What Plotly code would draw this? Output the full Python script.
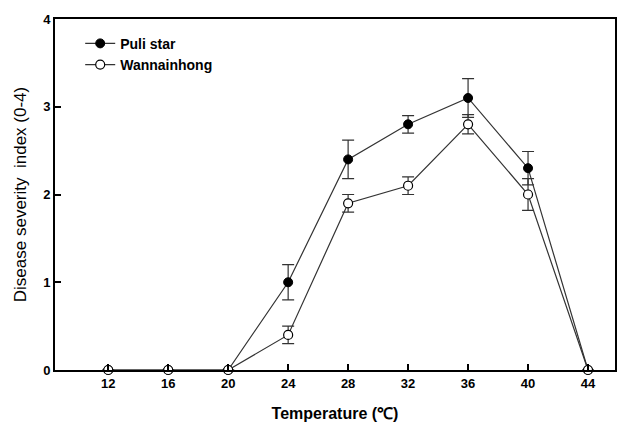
import plotly.graph_objects as go

temps = [12, 16, 20, 24, 28, 32, 36, 40, 44]
puli = [0, 0, 0, 1.0, 2.4, 2.8, 3.1, 2.3, 0]
puli_err = [0, 0, 0, 0.2, 0.22, 0.1, 0.22, 0.19, 0]
wann = [0, 0, 0, 0.4, 1.9, 2.1, 2.8, 2.0, 0]
wann_err = [0, 0, 0, 0.1, 0.1, 0.1, 0.11, 0.18, 0]
xticks = [12, 16, 20, 24, 28, 32, 36, 40, 44]
yticks = [0, 1, 2, 3, 4]

fig = go.Figure()
fig.add_trace(go.Scatter(
    x=temps, y=puli, name="<b>Puli star</b>", mode="lines+markers",
    line=dict(color="#333333", width=1.2),
    marker=dict(symbol="circle", size=9, color="black", line=dict(color="black", width=1)),
    error_y=dict(type="data", array=puli_err, visible=True, color="#333333", thickness=1.2, width=6),
    cliponaxis=False,
))
fig.add_trace(go.Scatter(
    x=temps, y=wann, name="<b>Wannainhong</b>", mode="lines+markers",
    line=dict(color="#333333", width=1.2),
    marker=dict(symbol="circle", size=9, color="white", line=dict(color="black", width=1.2)),
    error_y=dict(type="data", array=wann_err, visible=True, color="#333333", thickness=1.2, width=6),
    cliponaxis=False,
))

fig.update_layout(
    width=630, height=433,
    margin=dict(l=55, r=15, t=14, b=63),
    paper_bgcolor="white", plot_bgcolor="white",
    font=dict(family="Liberation Sans, Arial, sans-serif", size=13, color="black"),
    showlegend=True,
    legend=dict(x=0.045, y=0.975, xanchor="left", yanchor="top", bgcolor="rgba(0,0,0,0)",
                font=dict(size=14), itemwidth=30, tracegroupgap=0),
    xaxis=dict(
        range=[8.45, 45.8], tickvals=xticks, ticktext=[f"<b>{t}</b>" for t in xticks],
        ticks="inside", ticklen=6, tickwidth=1.5, tickcolor="black",
        showline=True, linecolor="black", linewidth=2, mirror=True,
        showgrid=False, zeroline=False,
        title=dict(text="<b>Temperature (℃)</b>", font=dict(size=16), standoff=18),
    ),
    yaxis=dict(
        range=[0, 4], tickvals=yticks, ticktext=[f"<b>{t}</b>" for t in yticks],
        ticks="inside", ticklen=6, tickwidth=1.5, tickcolor="black",
        showline=True, linecolor="black", linewidth=2, mirror=True,
        showgrid=False, zeroline=False,
        title=dict(text="Disease severity  index (0-4)", font=dict(size=17), standoff=12),
    ),
)

fig.write_html("out.html")
